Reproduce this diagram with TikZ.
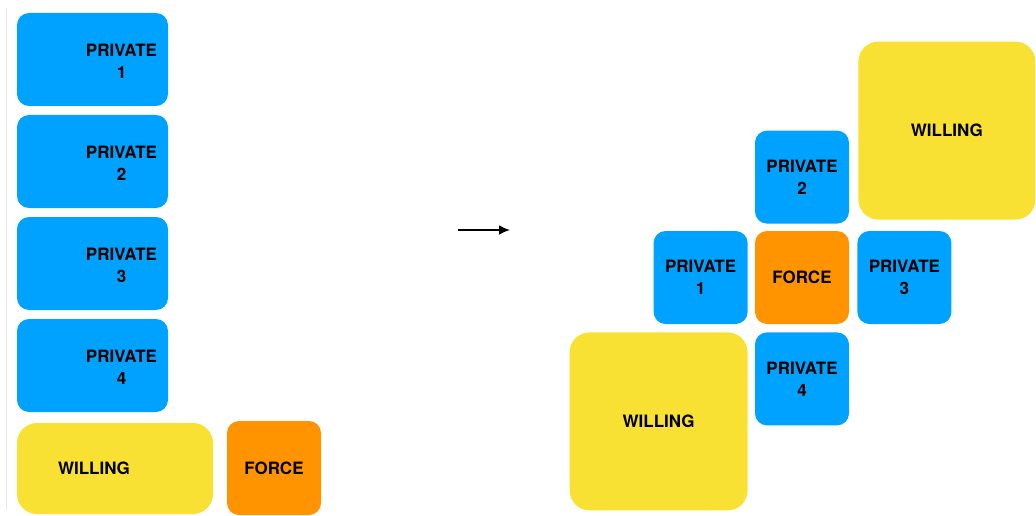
\documentclass[tikz,border=0pt]{standalone}
\usepackage{fontspec}
\setmainfont{TeX Gyre Heros}
\usepackage{xcolor}
\usepackage{tikz}
\usetikzlibrary{arrows.meta, positioning}
\definecolor{privblue}{RGB}{0, 162, 255}
\definecolor{willyellow}{RGB}{248, 225, 51}
\definecolor{forceorange}{RGB}{255, 147, 0}
\definecolor{edgegray}{RGB}{232, 232, 232}

\tikzset{
    tile/.style={rectangle, rounded corners=12pt, inner sep=0pt, align=center,
                 font=\fontsize{17}{22}\selectfont\bfseries, text=black},
    privtile/.style={tile, fill=privblue, minimum width=94pt, minimum height=93pt},
    forcetile/.style={tile, fill=forceorange, minimum width=94pt, minimum height=93pt},
    willtile/.style={tile, fill=willyellow, rounded corners=20pt,
                     minimum width=178pt, minimum height=178pt},
    longtile/.style={tile, minimum width=151pt, minimum height=93pt},
}

\begin{document}
\begin{tikzpicture}[x=1pt, y=-1pt]
    \useasboundingbox (0,0) rectangle (1036,516);
    \draw[edgegray, line width=0.8pt] (6,8) -- (6,510);

    % before: stacked column
    \foreach \i in {1,...,4} {
        \node[longtile, fill=privblue,
              label={[align=center, font=\fontsize{17}{22}\selectfont\bfseries, xshift=29pt, yshift=-2pt]center:PRIVATE\\\i}]
              (lp\i) at (92.5, {59.5+102*(\i-1)}) {};
    }
    \node[tile, fill=willyellow, rounded corners=20pt, minimum width=196pt, minimum height=91pt,
          label={[font=\fontsize{17}{22}\selectfont\bfseries, xshift=-21pt]center:WILLING}]
          (lwill) at (115, 468.5) {};
    \node[forcetile, minimum height=94pt] (lforce) at (274, 468) {FORCE};

    % transition
    \coordinate (from) at (458, 230);
    \coordinate (to) at (510, 230);
    \draw[line width=2pt, -{Latex[length=11pt, width=10pt]}] (from) -- (to);

    % after: force in the middle
    \node[forcetile] (rforce) at (802, 277.5) {FORCE};
    \node[privtile, left=7pt of rforce] (rp1) {PRIVATE\\1};
    \node[privtile, above=7pt of rforce] (rp2) {PRIVATE\\2};
    \node[privtile, right=8pt of rforce] (rp3) {PRIVATE\\3};
    \node[privtile, below=8pt of rforce] (rp4) {PRIVATE\\4};
    \node[willtile, below=8pt of rp1.south east, anchor=north east] (rwill1) {WILLING};
    \node[willtile, above=11pt of rp3.north west, anchor=south west,
          minimum width=177pt, xshift=1pt] (rwill2) {WILLING};
\end{tikzpicture}
\end{document}
